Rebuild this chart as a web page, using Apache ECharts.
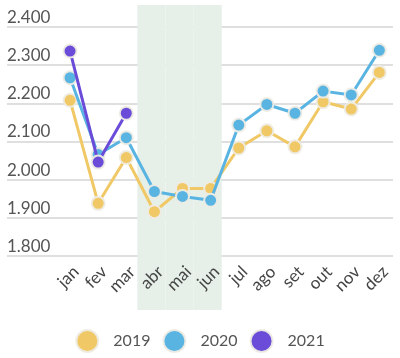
<!DOCTYPE html>
<html><head><meta charset="utf-8">
<script src="https://cdn.jsdelivr.net/npm/echarts@6/dist/echarts.min.js"></script>
<style>html,body{margin:0;padding:0;background:#fff}#c{width:400px;height:358px}</style>
</head><body><div id="c"></div>
<script>
const categories = ['jan','fev','mar','abr','mai','jun','jul','ago','set','out','nov','dez'];
const s2019 = [2.208,1.938,2.058,1.916,1.977,1.977,2.083,2.128,2.086,2.204,2.185,2.281];
const s2020 = [2.267,2.066,2.110,1.969,1.956,1.946,2.143,2.197,2.174,2.232,2.222,2.339];
const s2021 = [2.337,2.046,2.174];
const seriesNames = ['2019','2020','2021'];
const band = [0,0,0,1,1,1,0,0,0,0,0,0];
const yTicks = [1.8,1.9,2.0,2.1,2.2,2.3,2.4];

const colors = ['#f0c866','#5ab4e2','#6a4cd8'];
const chart = echarts.init(document.getElementById('c'));
const FONT = 'Lato, sans-serif';
function lineSeries(name, data, color, z){
  return {
    name, type:'line', data, xAxisIndex:1, yAxisIndex:1, z,
    symbol:'circle', symbolSize:13,
    lineStyle:{color, width:3},
    itemStyle:{color, borderColor:'rgba(238,236,228,0.95)', borderWidth:2},
    emphasis:{disabled:true}, animation:false
  };
}
chart.setOption({
  animation:false,
  color: colors,
  grid:[
    {left:7, right:7, top:27, bottom:102},
    {left:56, right:6.6, top:27, bottom:102},
    {left:53, right:9.6, top:5, bottom:48}
  ],
  xAxis:[
    {gridIndex:0, type:'value', show:false},
    {gridIndex:1, type:'category', data:categories, boundaryGap:true,
      axisLine:{show:false}, axisTick:{show:false},
      axisLabel:{rotate:45, margin:7, fontSize:17, color:'#444', fontFamily:FONT, interval:0,
        verticalAlign:'top'}},
    {gridIndex:2, type:'category', data:categories, show:false, boundaryGap:true}
  ],
  yAxis:[
    {gridIndex:0, type:'value', min:yTicks[0], max:yTicks[yTicks.length-1], interval:0.1,
      axisLine:{show:false}, axisTick:{show:false},
      splitLine:{lineStyle:{color:'#d4d4d4', width:1.5}},
      axisLabel:{inside:true, margin:0, verticalAlign:'bottom', padding:[0,0,1,0],
        fontSize:17, color:'#555', fontFamily:FONT,
        formatter:v=>v.toFixed(3)}},
    {gridIndex:1, type:'value', min:yTicks[0], max:yTicks[yTicks.length-1], show:false},
    {gridIndex:2, type:'value', min:0, max:1, show:false}
  ],
  legend:{
    data:seriesNames, bottom:0, left:'center', icon:'circle',
    padding:[5,5,5,13],
    itemWidth:22, itemHeight:22, itemGap:12,
    textStyle:{fontSize:16, color:'#555', fontFamily:FONT, padding:[0,0,0,10]}
  },
  series:[
    {type:'bar', data:band, xAxisIndex:2, yAxisIndex:2, barWidth:'100%', z:0,
      itemStyle:{color:'#e6f0e9'}, silent:true, legendHoverLink:false, animation:false},
    lineSeries(seriesNames[0], s2019, colors[0], 3),
    lineSeries(seriesNames[1], s2020, colors[1], 4),
    lineSeries(seriesNames[2], s2021, colors[2], 5)
  ]
});
</script></body></html>
